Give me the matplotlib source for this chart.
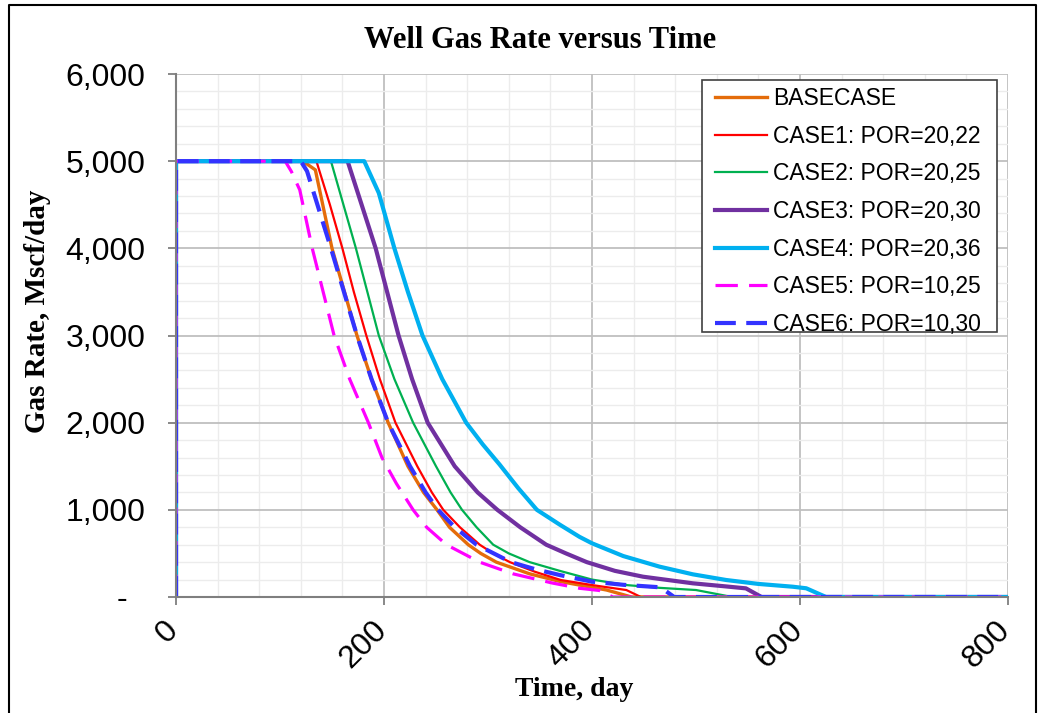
import numpy as np
import matplotlib
matplotlib.use('Agg')
import matplotlib.pyplot as plt
from matplotlib.ticker import MultipleLocator, FuncFormatter
from matplotlib.transforms import ScaledTranslation
from matplotlib.lines import Line2D
from matplotlib.patches import Rectangle

plt.rcParams['font.family'] = 'Liberation Sans'

# ---- data (time in days, gas rate in Mscf/day) ----
t_base = [0, 0, 122, 134, 150, 162, 174, 188, 204, 223, 238, 251, 263, 281, 293, 308, 340, 370, 400, 414, 438, 800]
q_base = [0, 5000, 5000, 4900, 4000, 3500, 3000, 2500, 2000, 1500, 1200, 1000, 800, 600, 500, 400, 266, 176, 111, 80, 0, 0]

t_c1 = [0, 0, 135, 148, 160, 171, 183, 196, 211, 232, 246, 257, 273, 292, 305, 321, 345, 370, 400, 433, 447, 800]
q_c1 = [0, 5000, 5000, 4500, 4000, 3500, 3000, 2500, 2000, 1500, 1200, 1000, 800, 600, 500, 400, 290, 195, 137, 80, 0, 0]

t_c2 = [0, 0, 149, 173, 195, 210, 228, 250, 264, 275, 289, 305, 320, 340, 369, 400, 433, 465, 500, 535, 800]
q_c2 = [0, 5000, 5000, 4000, 3000, 2500, 2000, 1500, 1200, 1000, 800, 600, 500, 400, 300, 200, 137, 105, 80, 0, 0]

t_c3 = [0, 0, 165, 192, 214, 227, 242, 268, 290, 309, 331, 356, 375, 395, 422, 449, 497, 530, 548, 563, 800]
q_c3 = [0, 5000, 5000, 4000, 3000, 2500, 2000, 1500, 1200, 1000, 800, 600, 500, 400, 300, 233, 157, 120, 99, 0, 0]

t_c4 = [0, 0, 181, 195, 210, 223, 237, 256, 279, 295, 311, 329, 347, 369, 388, 400, 430, 465, 497, 529, 560, 593, 606, 625, 800]
q_c4 = [0, 5000, 5000, 4635, 4000, 3500, 3000, 2500, 2000, 1750, 1522, 1250, 1000, 830, 690, 616, 470, 348, 260, 195, 150, 118, 100, 0, 0]

t_c5 = [0, 0, 105, 111, 119, 131, 152, 167, 185, 198, 212, 228, 241, 260, 292, 324, 362, 388, 407, 420, 800]
q_c5 = [0, 5000, 5000, 4880, 4670, 4000, 3000, 2500, 2000, 1600, 1300, 1000, 800, 600, 400, 266, 160, 100, 75, 0, 0]

t_c6 = [0, 0, 120, 126, 149, 174, 188, 204, 225, 240, 252, 268, 289, 322, 345, 369, 400, 430, 466, 479, 800]
q_c6 = [0, 5000, 5000, 4885, 4000, 3000, 2500, 2000, 1500, 1200, 1000, 800, 600, 400, 320, 252, 176, 140, 111, 0, 0]

labels = ['BASECASE', 'CASE1: POR=20,22', 'CASE2: POR=20,25', 'CASE3: POR=20,30',
          'CASE4: POR=20,36', 'CASE5: POR=10,25', 'CASE6: POR=10,30']
series = [(t_base, q_base), (t_c1, q_c1), (t_c2, q_c2), (t_c3, q_c3),
          (t_c4, q_c4), (t_c5, q_c5), (t_c6, q_c6)]

colors = ['#E46C0A', '#FF0000', '#00B050', '#7030A0', '#00B0F0', '#FF00FF', '#3333FF']
widths = [2.4, 1.6, 1.6, 3.0, 3.0, 2.3, 3.0]
dashes = [None, None, None, None, None, (7, 3.5), (5, 2.5)]

W, H = 1042, 713
L, R, T, B = 176, 1008, 74, 597

fig = plt.figure(figsize=(W/100, H/100), dpi=100, facecolor='white')
ax = fig.add_axes([L/W, 1-B/H, (R-L)/W, (B-T)/H])

def ax_xy(px, py):
    return (px-L)/(R-L), (B-py)/(B-T)

for (t, q), lab, c, w, d in zip(series, labels, colors, widths, dashes):
    ln, = ax.plot(t, q, color=c, lw=w, label=lab, solid_joinstyle='round')
    if d:
        ln.set_dashes(d)

ax.set_xlim(0, 800)
ax.set_ylim(0, 6000)
ax.xaxis.set_major_locator(MultipleLocator(200))
ax.xaxis.set_minor_locator(MultipleLocator(40))
ax.yaxis.set_major_locator(MultipleLocator(1000))
ax.yaxis.set_minor_locator(MultipleLocator(200))
ax.yaxis.set_major_formatter(FuncFormatter(lambda v, p: '-  ' if v == 0 else f'{v:,.0f}'))

ax.grid(which='major', color='#BFBFBF', lw=1.3)
ax.grid(which='minor', color='#ECECEC', lw=1.0)
ax.set_axisbelow(True)
for s in ['top', 'right']:
    ax.spines[s].set_visible(False)
for s in ['left', 'bottom']:
    ax.spines[s].set_color('#7F7F7F')
    ax.spines[s].set_linewidth(1.5)

ax.tick_params(which='major', direction='out', length=6, width=1.3, color='#7F7F7F', labelsize=23)
ax.tick_params(which='minor', length=0)
ax.tick_params(axis='y', pad=16)
ax.tick_params(axis='x', pad=18)
for lbl in ax.get_xticklabels():
    lbl.set_rotation(45)
    lbl.set_ha('right')
    lbl.set_va('center')
    lbl.set_rotation_mode('anchor')
    lbl.set_transform(lbl.get_transform() + ScaledTranslation(-0.02, 0.05, fig.dpi_scale_trans))

# legend box drawn separately so the padding matches the original
x0, y0 = ax_xy(702, 332)
x1, y1 = ax_xy(997, 80)
ax.add_patch(Rectangle((x0, y0), x1-x0, y1-y0, transform=ax.transAxes, facecolor='white',
                       edgecolor='#404040', lw=1.2, zorder=9, clip_on=False))
leg = ax.legend(loc='upper left', bbox_to_anchor=ax_xy(715, 87), borderaxespad=0, borderpad=0,
                fontsize=16.5, frameon=False, handlelength=2.25, labelspacing=0.64, handletextpad=0.3)
leg.set_zorder(10)

fig.text(540/W, 1-40/H, 'Well Gas Rate versus Time', ha='center', va='center',
         family='Liberation Serif', fontweight='bold', fontsize=22)
fig.text(574/W, 1-690/H, 'Time, day', ha='center', va='center',
         family='Liberation Serif', fontweight='bold', fontsize=20)
fig.text(38/W, 1-311/H, 'Gas Rate, Mscf/day', ha='center', va='center', rotation=90,
         family='Liberation Serif', fontweight='bold', fontsize=21)

# outer chart border
border = Line2D([9/W, 9/W, 1036/W, 1036/W], [-0.1, 1-5/H, 1-5/H, -0.1],
                transform=fig.transFigure, color='black', lw=1.5)
fig.add_artist(border)

fig.savefig('out.png', dpi=100, facecolor='white')
